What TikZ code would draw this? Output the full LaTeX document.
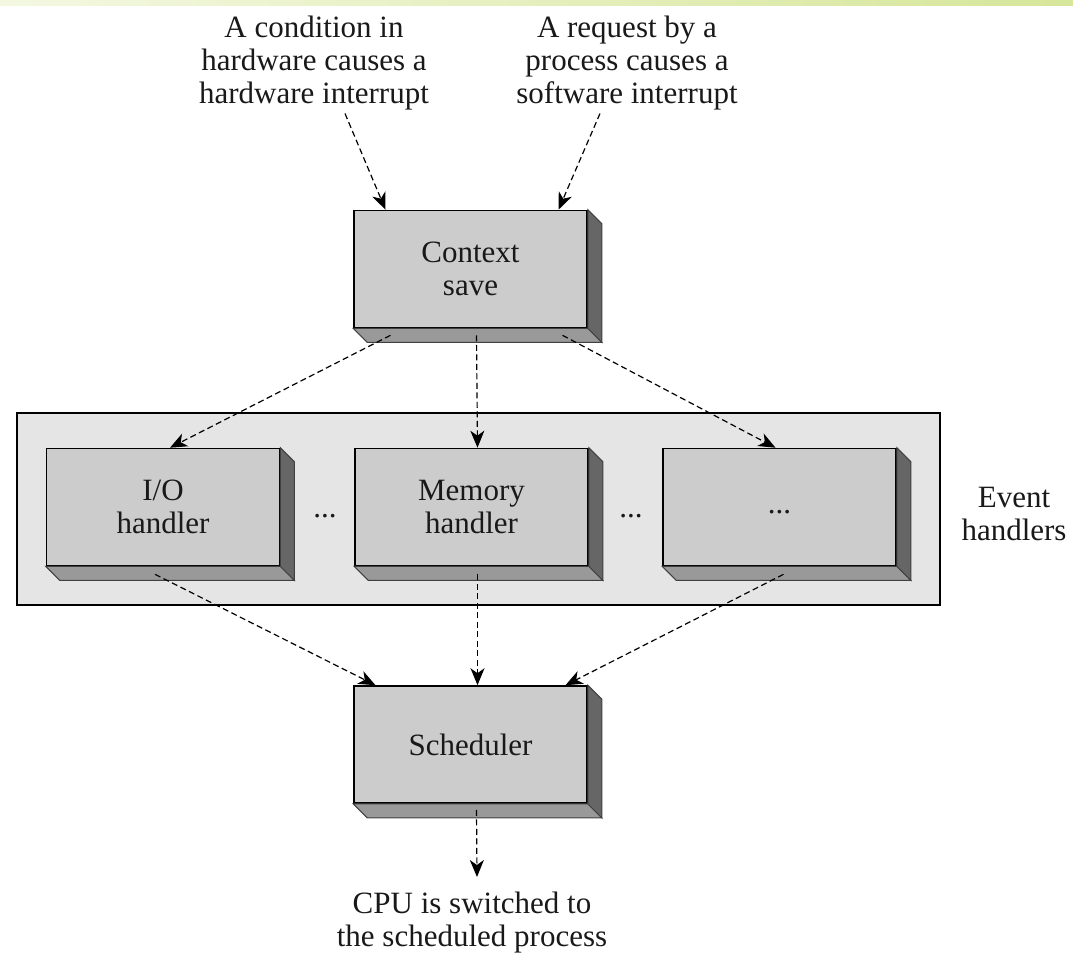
\documentclass[tikz,border=0pt]{standalone}
\usepackage{fontspec}
\setmainfont{Liberation Serif}
\usetikzlibrary{arrows.meta,calc}
\definecolor{boxfront}{HTML}{CCCCCC}
\definecolor{boxbottom}{HTML}{999999}
\definecolor{boxside}{HTML}{666666}
\definecolor{panelgray}{HTML}{E5E5E5}
\definecolor{barleft}{HTML}{F4F8E2}
\definecolor{barright}{HTML}{D6E69A}

\begin{document}
\begin{tikzpicture}[x=1pt, y=-1pt,
    every node/.style={font=\fontsize{31}{33}\selectfont, text=black!90},
    box/.style={draw, line width=1.6pt, fill=boxfront, minimum width=233pt, minimum height=117pt, inner sep=0pt, align=center},
    note/.style={align=center, inner sep=0pt},
    flow/.style={line width=1.2pt, dash pattern=on 6pt off 3.5pt, -{Stealth[length=17pt, width=14pt, inset=5pt]}}]
    \useasboundingbox (0,0) rectangle (1073,954);
    % Decoration
    \shade[left color=barleft, right color=barright] (0,0) rectangle (1073,5);
    % Panel of the handlers
    \node[draw, line width=1.6pt, fill=panelgray, minimum width=923pt, minimum height=192pt] (panel) at (478.5,509) {};
    \node[note, anchor=north] (evlabel) at (1014,487) {Event\\handlers};
    % Boxes
    \node[box] (ctx) at (470.5,269) {Context\\save};
    \node[box] (io) at (163,507) {I/O\\handler};
    \node[box] (mem) at (471.5,507) {Memory\\handler};
    \node[box] (more) at (779.5,507) {\strut...};
    \node[box] (sched) at (470.5,744.5) {Scheduler};
    % Depth of the boxes
    \foreach \b in {ctx,io,mem,more,sched} {
        \filldraw[fill=boxbottom, draw=black!75, line width=1pt] (\b.south west) -- (\b.south east) -- ++(14,14) -- ($(\b.south west)+(14,14)$) -- cycle;
        \filldraw[fill=boxside, draw=black!75, line width=1pt] (\b.north east) -- ++(14,14) -- ($(\b.south east)+(14,14)$) -- (\b.south east) -- cycle;
    }
    % Dots between the handlers
    \node[anchor=base] (dotsa) at (325,517) {...};
    \node[anchor=base] (dotsb) at (631,517) {...};
    % Texts
    \node[note, anchor=north] (cond) at (314,16) {A condition in\\hardware causes a\\hardware interrupt};
    \node[note, anchor=north] (req) at (627,16) {A request by a\\process causes a\\software interrupt};
    \node[note, anchor=north] (cpu) at (472,892) {CPU is switched to\\the scheduled process};
    % Arrows
    \draw[flow] ([xshift=31pt,yshift=-3pt]cond.south) -- ([xshift=-85pt]ctx.north);
    \draw[flow] ([xshift=-27pt,yshift=-3pt]req.south) -- ([xshift=88pt]ctx.north);
    \draw[flow] ([xshift=-80pt,yshift=-7pt]ctx.south) -- ([xshift=7pt]io.north);
    \draw[flow] ([xshift=6pt,yshift=-7pt]ctx.south) -- ([xshift=6pt]mem.north);
    \draw[flow] ([xshift=92pt,yshift=-7pt]ctx.south) -- ([xshift=-4pt]more.north);
    \draw[flow] ([xshift=-8pt,yshift=-8pt]io.south) -- ([xshift=-95pt]sched.north);
    \draw[flow] ([xshift=6pt,yshift=-8pt]mem.south) -- ([xshift=7pt]sched.north);
    \draw[flow] ([xshift=4pt,yshift=-8pt]more.south) -- ([xshift=95pt]sched.north);
    \draw[flow] ([xshift=6pt,yshift=-6pt]sched.south) -- ([xshift=5pt,yshift=15pt]cpu.north);
\end{tikzpicture}
\end{document}
